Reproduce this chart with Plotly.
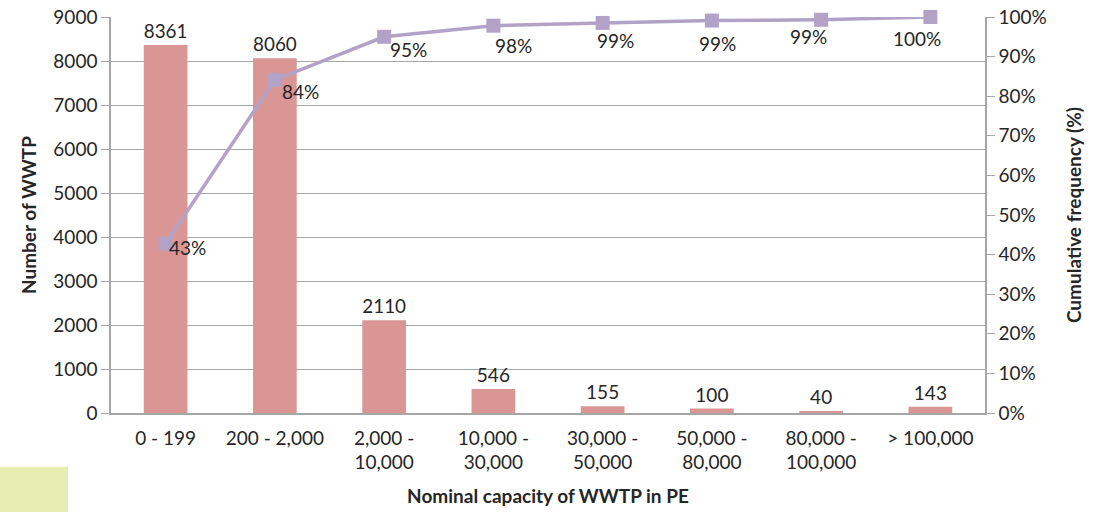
import plotly.graph_objects as go

categories = ["0 - 199", "200 - 2,000", "2,000 -<br>10,000", "10,000 -<br>30,000",
              "30,000 -<br>50,000", "50,000 -<br>80,000", "80,000 -<br>100,000", "> 100,000"]
counts = [8361, 8060, 2110, 546, 155, 100, 40, 143]
cumulative = [0.428, 0.841, 0.950, 0.978, 0.985, 0.991, 0.993, 1.000]
cum_labels = ["43%", "84%", "95%", "98%", "99%", "99%", "99%", "100%"]

FONT = "Lato, 'Open Sans', sans-serif"
TXT = "#262626"
GRID = "#a6a6a6"

fig = go.Figure()
fig.add_trace(go.Bar(
    x=categories, y=counts, marker_color="#d99694", marker_line_width=0,
    text=[str(v) for v in counts], textposition="outside", cliponaxis=False,
    textfont=dict(family=FONT, size=19, color=TXT), yaxis="y", showlegend=False))
fig.add_trace(go.Scatter(
    x=categories, y=cumulative, mode="lines+markers", yaxis="y2",
    line=dict(color="#b3a2c7", width=3.5),
    marker=dict(symbol="square", size=14, color="#b3a2c7"),
    cliponaxis=False, showlegend=False))

# percentage labels
shifts = [(22, -4), (26, -12), (24, -13), (20, -20), (13, -18), (6, -23), (-13, -17), (-13, -21)]
for c, v, lab, (dx, dy) in zip(categories, cumulative, cum_labels, shifts):
    fig.add_annotation(x=c, y=v, yref="y2", text=lab, showarrow=False,
                       xshift=dx, yshift=dy, font=dict(family=FONT, size=19, color=TXT))

fig.add_shape(type="rect", xref="paper", yref="paper", x0=-0.127, x1=-0.0492,
              y0=-0.25, y1=-0.136, fillcolor="#e6eeb4", line_width=0, layer="above")

fig.update_layout(
    width=1093, height=512, margin=dict(l=111, r=108, t=17, b=99),
    paper_bgcolor="white", plot_bgcolor="white", bargap=0.6,
    font=dict(family=FONT, size=19, color=TXT),
    xaxis=dict(showline=True, linecolor=GRID, linewidth=1.5, ticks="", automargin=False,
               tickfont=dict(size=19), ticklabelstandoff=7,
               title=dict(text="<b>Nominal capacity of WWTP in PE</b>", font=dict(size=19), standoff=17)),
    yaxis=dict(range=[0, 9000], dtick=1000, showgrid=True, gridcolor=GRID, gridwidth=1.3,
               showline=True, linecolor=GRID, linewidth=1.5, ticks="outside", ticklen=8,
               tickcolor=GRID, zeroline=False, automargin=False, tickfont=dict(size=19),
               title=dict(text="<b>Number of WWTP</b>", font=dict(size=19), standoff=12)),
    yaxis2=dict(range=[0, 1], dtick=0.1, tickformat=".0%", overlaying="y", side="right",
                showgrid=False, showline=True, linecolor=GRID, linewidth=1.5, ticks="outside",
                ticklen=8, tickcolor=GRID, zeroline=False, automargin=False, tickfont=dict(size=19),
                title=dict(text="<b>Cumulative frequency (%)</b>", font=dict(size=19), standoff=22)),
)

fig.write_html("out.html")
